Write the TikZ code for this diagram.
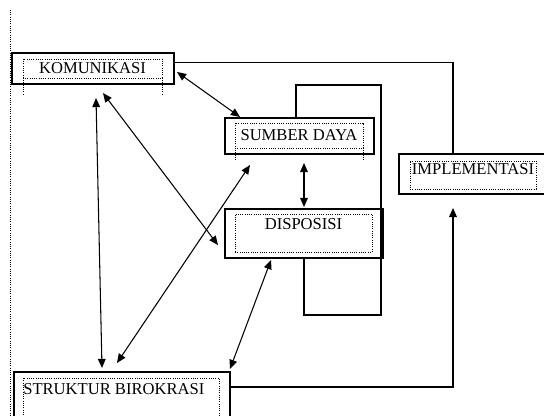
\documentclass[tikz,border=0pt]{standalone}
\usepackage{fontspec}
\setmainfont{Liberation Serif}
\usetikzlibrary{arrows.meta,positioning}
\tikzset{
  outerbox/.style={draw, line width=0.9pt, outer sep=0pt, inner sep=0pt},
  innerbox/.style={draw, densely dotted, line width=0.6pt, outer sep=0pt, inner sep=0pt},
  dotline/.style={densely dotted, line width=0.6pt},
  link/.style={line width=0.8pt},
  arr/.style={line width=0.75pt, {Triangle[length=6.5pt,width=5.5pt]}-{Triangle[length=6.5pt,width=5.5pt]}},
  oneway/.style={line width=0.8pt, -{Triangle[length=6.5pt,width=5.5pt]}},
  lbl/.style={inner sep=0pt}
}
\begin{document}
\begin{tikzpicture}[font=\fontsize{11.8pt}{13pt}\selectfont]
        \useasboundingbox (0,0) rectangle (13.6,10.4);
        \draw[dotline] (0.25,10.15) -- (0.25,0);

        \node[outerbox, minimum width=4.05cm, minimum height=0.775cm] (kom) at (2.325,8.6875) {};
        \node[innerbox, minimum width=3.475cm, minimum height=0.475cm] (komin) at (2.3125,8.6875) {};
        \node[lbl] (komtxt) at (komin) {KOMUNIKASI};
        \draw[dotline] (komin.south west) -- ++(0,-0.425);
        \draw[dotline] (komin.south east) -- ++(0,-0.425);

        \node[outerbox, minimum width=3.725cm, minimum height=0.9cm] (sumber) at (7.4875,7.0) {};
        \node[innerbox, minimum width=3.2cm, minimum height=0.625cm] (sumberin) at (7.475,7.0125) {};
        \node[lbl] (sumbertxt) at (sumberin) {SUMBER DAYA};
        \draw[dotline] (sumberin.south west) -- ++(0,-0.3);
        \draw[dotline] (sumberin.south east) -- ++(0,-0.3);

        \node[outerbox, minimum width=3.95cm, minimum height=1.225cm] (disp) at (7.6,4.5625) {};
        \node[innerbox, minimum width=3.425cm, minimum height=0.95cm] (dispin) at (7.5875,4.575) {};
        \node[lbl, below=0.1cm of dispin.north] (disptxt) {DISPOSISI};

        \node[outerbox, minimum width=3.675cm, minimum height=1.0cm] (impl) at (11.8125,6.05) {};
        \node[innerbox, minimum width=3.15cm, minimum height=0.7cm] (implin) at (11.825,6.025) {};
        \node[lbl, below=0.05cm of implin.north] (impltxt) {IMPLEMENTASI};

        \node[outerbox, minimum width=5.4cm, minimum height=1.3cm] (struk) at (3.05,0.45) {};
        \node[innerbox, minimum width=4.9cm, minimum height=1.05cm] (strukin) at (3.025,0.425) {};
        \node[lbl, below right=0.12cm and 0cm of strukin.north west] (struktxt) {STRUKTUR BIROKRASI};

        \coordinate (loopTop) at (9.525,8.275);
        \coordinate (loopBot) at (7.6,2.525);
        \coordinate (implIn) at ([shift={(-0.4875,-0.35)}]impl.south);

        \draw[link] ([xshift=-0.0875cm]sumber.north) |- (loopTop) |- (loopBot) -- (disp.south);
        \draw[link] ([yshift=0.15cm]kom.east) -| ([xshift=-0.4875cm]impl.north);
        \draw[oneway] ([yshift=0.275cm]struk.east) -| (implIn);

        \draw[arr] ([shift={(0.075,-0.0875)}]kom.east) -- ([shift={(0.375,0.025)}]sumber.north west);
        \draw[arr] ([shift={(0.25,-0.225)}]kom.south) -- ([shift={(-0.175,-0.29)}]disp.west);
        \draw[arr] ([shift={(0.075,-0.35)}]kom.south) -- ([shift={(-0.5,0.1)}]struk.north);
        \draw[arr] ([shift={(0.625,-0.275)}]sumber.south west) -- ([shift={(-0.125,0.225)}]struk.north);
        \draw[arr] ([yshift=1.15cm]disp.north) -- ([yshift=0.05cm]disp.north);
        \draw[arr] ([shift={(-0.825,-0.05)}]disp.south) -- ([shift={(0,0.075)}]struk.north east);
    \end{tikzpicture}
\end{document}
